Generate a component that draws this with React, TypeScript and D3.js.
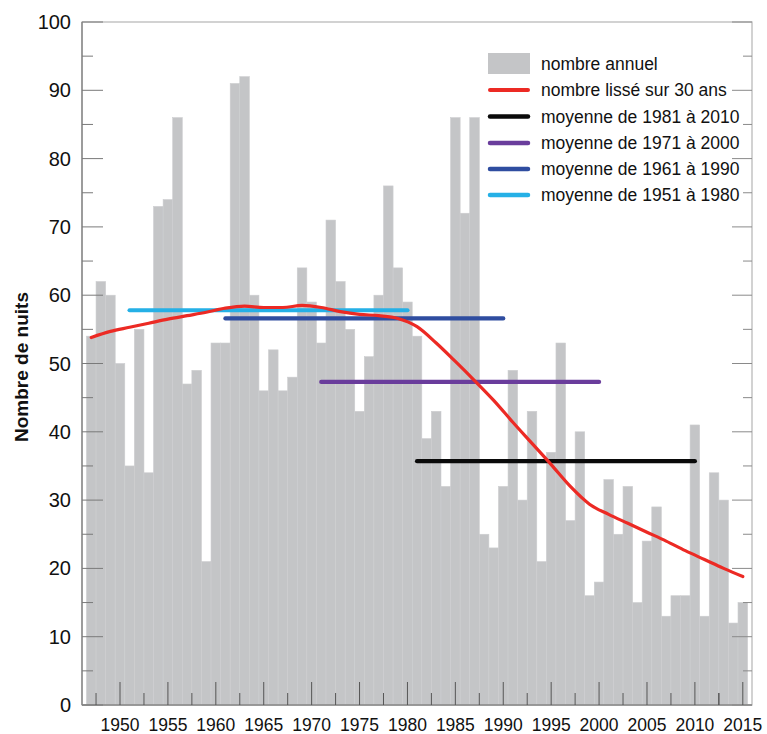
import React from "react";
import * as d3 from "d3";

const years: number[] = [
  1947, 1948, 1949, 1950, 1951, 1952, 1953, 1954, 1955, 1956,
  1957, 1958, 1959, 1960, 1961, 1962, 1963, 1964, 1965, 1966,
  1967, 1968, 1969, 1970, 1971, 1972, 1973, 1974, 1975, 1976,
  1977, 1978, 1979, 1980, 1981, 1982, 1983, 1984, 1985, 1986,
  1987, 1988, 1989, 1990, 1991, 1992, 1993, 1994, 1995, 1996,
  1997, 1998, 1999, 2000, 2001, 2002, 2003, 2004, 2005, 2006,
  2007, 2008, 2009, 2010, 2011, 2012, 2013, 2014, 2015,
];

const annualValues: number[] = [
  54, 62, 60, 50, 35, 55, 34, 73, 74, 86,
  47, 49, 21, 53, 53, 91, 92, 60, 46, 52,
  46, 48, 64, 59, 53, 71, 62, 55, 43, 51,
  60, 76, 64, 59, 54, 39, 43, 32, 86, 72,
  86, 25, 23, 32, 49, 30, 43, 21, 37, 53,
  27, 40, 16, 18, 33, 25, 32, 15, 24, 29,
  13, 16, 16, 41, 13, 34, 30, 12, 15,
];

const smoothYears: number[] = [
  1947, 1949, 1951, 1953, 1955, 1957, 1959, 1961, 1963, 1965,
  1967, 1969, 1971, 1973, 1975, 1977, 1979, 1981, 1983, 1985,
  1987, 1989, 1991, 1993, 1995, 1997, 1999, 2001, 2003, 2005,
  2007, 2009, 2011, 2013, 2015,
];
const smoothValues: number[] = [
  53.8, 54.7, 55.3, 55.9, 56.5, 57.0, 57.5, 58.1, 58.4, 58.2,
  58.2, 58.5, 58.2, 57.6, 57.2, 57.0, 56.6, 55.4, 53.0, 50.3,
  47.5, 44.6, 41.4, 38.3, 35.2, 32.0, 29.4, 27.9, 26.6, 25.3,
  24.0, 22.6, 21.3, 20.0, 18.8,
];

const meanLabels: string[] = [
  "moyenne de 1981 à 2010",
  "moyenne de 1971 à 2000",
  "moyenne de 1961 à 1990",
  "moyenne de 1951 à 1980",
];
const meanStart: number[] = [1981, 1971, 1961, 1951];
const meanEnd: number[] = [2010, 2000, 1990, 1980];
const meanValues: number[] = [35.7, 47.3, 56.6, 57.8];
const meanColors: string[] = ["#0a0a0a", "#6a3d9c", "#2f4da0", "#25b0e6"];

const xTickYears: number[] = [1950, 1955, 1960, 1965, 1970, 1975, 1980, 1985, 1990, 1995, 2000, 2005, 2010, 2015];
const yTickValues: number[] = [0, 10, 20, 30, 40, 50, 60, 70, 80, 90, 100];

const W = 767;
const H = 734;
const left = 82;
const right = 752;
const top = 22;
const bottom = 705;
const FONT = "'Liberation Sans', Arial, Helvetica, sans-serif";

export default function App() {
  const x = d3.scaleLinear().domain([1950, 2015]).range([120, 742.8]);
  const y = d3.scaleLinear().domain([0, 100]).range([bottom, top]);
  const bw = x(1951) - x(1950);

  const line = d3
    .line<number>()
    .x((_, i) => x(smoothYears[i]))
    .y((d) => y(d))
    .curve(d3.curveMonotoneX);

  const minorX = xTickYears.map((t) => t - 2.5).concat([2012.5]);
  const minorY = yTickValues.slice(0, -1).map((v) => v + 5);

  const legendX0 = 488;
  const legendX1 = 530;
  const legendTextX = 541;
  const rowY = [64, 90, 116.5, 143, 169, 195];

  return (
    <svg
      width={W}
      height={H}
      style={{ position: "absolute", left: 0, top: 0, background: "#fff" }}
      fontFamily={FONT}
    >
      <rect x={0} y={0} width={W} height={H} fill="#fff" />
      {/* bars */}
      {years.map((yr, i) => (
        <rect
          key={yr}
          x={x(yr) - bw / 2}
          y={y(annualValues[i])}
          width={bw}
          height={bottom - y(annualValues[i])}
          fill="#c4c5c7"
          stroke="#cdced0"
          strokeWidth={0.6}
        />
      ))}

      {/* frame */}
      <rect x={left} y={top} width={right - left} height={bottom - top} fill="none" stroke="#b5b5b5" strokeWidth={1.2} />
      <line x1={left} x2={left} y1={top} y2={bottom} stroke="#8a8a8a" strokeWidth={1.5} />
      <line x1={left} x2={right} y1={bottom} y2={bottom} stroke="#8a8a8a" strokeWidth={1.5} />

      {/* y ticks left & right */}
      {yTickValues.map((v) => (
        <g key={"yt" + v}>
          <line x1={left} x2={left + 21} y1={y(v)} y2={y(v)} stroke="#7a7a7a" strokeWidth={1} />
          <line x1={right - 20} x2={right} y1={y(v)} y2={y(v)} stroke="#8a8a8a" strokeWidth={1} />
          <text
            x={71}
            y={y(v)}
            textAnchor="end"
            dominantBaseline="central"
            fontSize={20}
            fill="#111"
          >
            {v}
          </text>
        </g>
      ))}
      {minorY.map((v) => (
        <g key={"ym" + v}>
          <line x1={left} x2={left + 11} y1={y(v)} y2={y(v)} stroke="#7a7a7a" strokeWidth={1} />
          <line x1={right - 9} x2={right} y1={y(v)} y2={y(v)} stroke="#8a8a8a" strokeWidth={1} />
        </g>
      ))}

      {/* x ticks */}
      {xTickYears.map((t) => (
        <g key={"xt" + t}>
          <line x1={x(t)} x2={x(t)} y1={bottom} y2={bottom - 23} stroke="#555" strokeWidth={1} />
          <text x={x(t)} y={725} textAnchor="middle" dominantBaseline="central" fontSize={17.5} fill="#111">
            {t}
          </text>
        </g>
      ))}
      {minorX.map((t) => (
        <line key={"xm" + t} x1={x(t)} x2={x(t)} y1={bottom} y2={bottom - 12} stroke="#555" strokeWidth={1} />
      ))}

      {/* means */}
      {meanValues
        .map((v, i) => i)
        .reverse()
        .map((i) => (
          <line
            key={"m" + i}
            x1={x(meanStart[i])}
            x2={x(meanEnd[i])}
            y1={y(meanValues[i])}
            y2={y(meanValues[i])}
            stroke={meanColors[i]}
            strokeWidth={4.2}
            strokeLinecap="round"
          />
        ))}

      {/* smoothed */}
      <path d={line(smoothValues) || ""} fill="none" stroke="#ec2a24" strokeWidth={3.2} strokeLinecap="round" />

      {/* y label */}
      <text
        transform={`translate(21, 367) rotate(-90)`}
        textAnchor="middle"
        dominantBaseline="central"
        fontSize={19}
        fontWeight="bold"
        fill="#111"
      >
        Nombre de nuits
      </text>

      {/* legend */}
      <rect x={legendX0} y={53} width={legendX1 - legendX0} height={21} fill="#c4c5c7" />
      <text x={legendTextX} y={rowY[0]} dominantBaseline="central" fontSize={17.5} fill="#111">
        nombre annuel
      </text>
      <line x1={legendX0 + 2} x2={legendX1 - 2} y1={rowY[1]} y2={rowY[1]} stroke="#ec2a24" strokeWidth={4} strokeLinecap="round" />
      <text x={legendTextX} y={rowY[1]} dominantBaseline="central" fontSize={17.5} fill="#111">
        nombre lissé sur 30 ans
      </text>
      {meanLabels.map((lab, i) => (
        <g key={"lg" + i}>
          <line
            x1={legendX0 + 2}
            x2={legendX1 - 2}
            y1={rowY[i + 2]}
            y2={rowY[i + 2]}
            stroke={meanColors[i]}
            strokeWidth={4.5}
            strokeLinecap="round"
          />
          <text x={legendTextX} y={rowY[i + 2]} dominantBaseline="central" fontSize={17.5} fill="#111">
            {lab}
          </text>
        </g>
      ))}
    </svg>
  );
}
